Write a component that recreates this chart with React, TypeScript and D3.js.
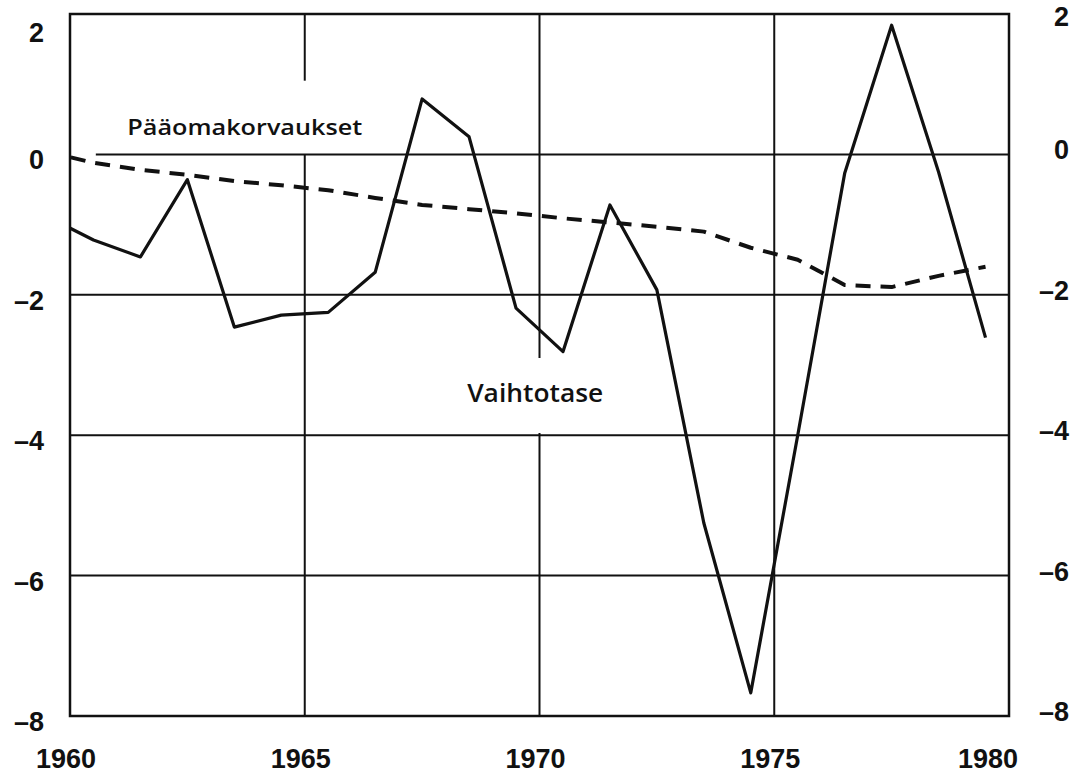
import { useMemo } from 'react';
import * as d3 from 'd3';

const WIDTH = 1080;
const HEIGHT = 777;
const MARGIN = { top: 14, right: 71, bottom: 61, left: 70 };

// annual values, plotted at mid-year (1959 only feeds the clipped start of the lines)
const YEARS = [
  1959, 1960, 1961, 1962, 1963, 1964, 1965, 1966, 1967, 1968, 1969,
  1970, 1971, 1972, 1973, 1974, 1975, 1976, 1977, 1978, 1979,
];
const VAIHTOTASE = [
  -0.88, -1.22, -1.46, -0.36, -2.46, -2.29, -2.25, -1.68, 0.79, 0.25, -2.19,
  -2.81, -0.72, -1.93, -5.25, -7.67, -4.0, -0.27, 1.84, -0.25, -2.61,
];
const PAAOMAKORVAUKSET = [
  0.04, -0.12, -0.22, -0.29, -0.38, -0.44, -0.51, -0.62, -0.72, -0.78, -0.84,
  -0.91, -0.97, -1.03, -1.1, -1.33, -1.5, -1.86, -1.89, -1.73, -1.6,
];

const X_TICKS = [1960, 1965, 1970, 1975, 1980];
const Y_TICKS = [2, 0, -2, -4, -6, -8];
const X_GRID = [1965, 1970, 1975];
const Y_GRID = [0, -2, -4, -6];

const INK = '#111';
const TICK_FONT = '"Liberation Sans", Arial, sans-serif';
const NOTE_FONT = '"Open Sans", "DejaVu Sans", sans-serif';

const fmt = (v: number) => (v < 0 ? '\u2013' + Math.abs(v) : String(v));

export default function App() {
  const x = useMemo(
    () => d3.scaleLinear().domain([1960, 1980]).range([MARGIN.left, WIDTH - MARGIN.right]),
    []
  );
  const y = useMemo(
    () => d3.scaleLinear().domain([-8, 2]).range([HEIGHT - MARGIN.bottom, MARGIN.top]),
    []
  );

  const line = d3
    .line<number>()
    .x((_, i) => x(YEARS[i] + 0.5))
    .y((d) => y(d));

  // gaps left in the vertical grid lines for the labels
  const vGaps: Record<number, [number, number]> = {
    1965: [0, 1.05],
    1970: [-3.97, -2.9],
  };

  const left = x(1960);
  const right = x(1980);
  const top = y(2);
  const bottom = y(-8);

  return (
    <svg
      width={WIDTH}
      height={HEIGHT}
      style={{ position: 'absolute', left: 0, top: 0, background: '#fff', display: 'block' }}
    >
      <defs>
        <clipPath id="plot">
          <rect x={left} y={top} width={right - left} height={bottom - top} />
        </clipPath>
      </defs>

      {/* grid */}
      <g stroke={INK} strokeWidth={2}>
        {Y_GRID.map((v) => (
          <line key={v} x1={v === 0 ? x(1960.55) : left} x2={right} y1={y(v)} y2={y(v)} />
        ))}
        {X_GRID.map((yr) => {
          const gap = vGaps[yr];
          if (!gap)
            return <line key={yr} x1={x(yr)} x2={x(yr)} y1={top} y2={bottom} />;
          return (
            <g key={yr}>
              <line x1={x(yr)} x2={x(yr)} y1={top} y2={y(gap[1])} />
              <line x1={x(yr)} x2={x(yr)} y1={y(gap[0])} y2={bottom} />
            </g>
          );
        })}
      </g>
      <rect
        x={left}
        y={top}
        width={right - left}
        height={bottom - top}
        fill="none"
        stroke={INK}
        strokeWidth={2.5}
      />

      {/* series */}
      <g clipPath="url(#plot)" fill="none" stroke={INK} strokeLinejoin="round">
        <path d={line(PAAOMAKORVAUKSET)!} strokeWidth={4} strokeDasharray="15,10" />
        <path d={line(VAIHTOTASE)!} strokeWidth={3.2} />
      </g>

      {/* series labels */}
      <text
        x={x(1961.22)}
        y={y(0.27)}
        fontFamily={NOTE_FONT}
        fontSize={22}
        fontWeight={600}
        fill={INK}
        textLength={235}
        lengthAdjust="spacingAndGlyphs"
      >
        Pääomakorvaukset
      </text>
      <text
        x={x(1968.46)}
        y={y(-3.53)}
        fontFamily={NOTE_FONT}
        fontSize={25}
        fontWeight={600}
        fill={INK}
        textLength={136}
        lengthAdjust="spacingAndGlyphs"
      >
        Vaihtotase
      </text>

      {/* y axis labels, both sides */}
      <g fontFamily={TICK_FONT} fontSize={27} fontWeight="bold" fill={INK}>
        {Y_TICKS.map((v) => (
          <text
            key={'l' + v}
            x={44}
            y={v === 2 ? y(v) + 19 : y(v) + 6}
            textAnchor="end"
            dominantBaseline="central"
          >
            {fmt(v)}
          </text>
        ))}
        {Y_TICKS.map((v) => (
          <text
            key={'r' + v}
            x={1069}
            y={v === 2 ? y(v) + 3 : y(v) - 4}
            textAnchor="end"
            dominantBaseline="central"
          >
            {fmt(v)}
          </text>
        ))}
      </g>

      {/* x axis labels */}
      <g fontFamily={TICK_FONT} fontSize={27} fontWeight="bold" fill={INK}>
        {X_TICKS.map((yr, i) => (
          <text
            key={yr}
            x={i === X_TICKS.length - 1 ? x(yr) + 9 : x(yr) - 4}
            y={bottom + 52}
            textAnchor={i === X_TICKS.length - 1 ? 'end' : 'middle'}
          >
            {yr}
          </text>
        ))}
      </g>
    </svg>
  );
}
